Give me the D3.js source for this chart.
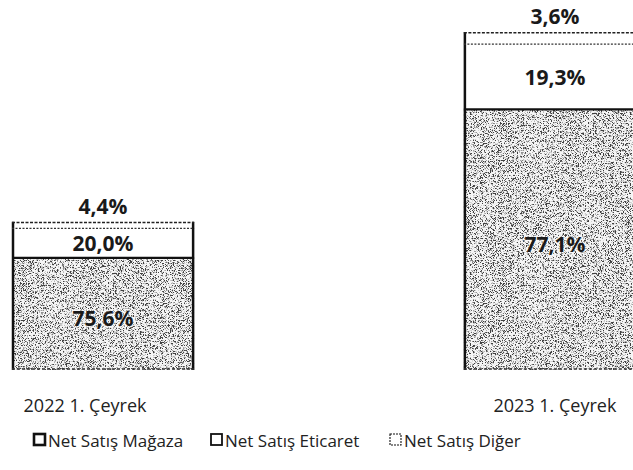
<!DOCTYPE html>
<html>
<head>
<meta charset="utf-8">
<script src="https://cdn.jsdelivr.net/npm/d3@7"></script>
<style>
  html, body { margin: 0; padding: 0; background: #fff; }
  svg { display: block; font-family: "Open Sans", "Noto Sans", sans-serif; }
</style>
</head>
<body>
<svg id="chart" width="633" height="470"></svg>
<script>
// Periods shown on the category axis
const periods = ["2022 1. Çeyrek", "2023 1. Çeyrek"];
// Relative size of total net sales for each period (2022 Q1 = 100)
const totals = [100, 228];
// Channel shares of net sales, in percent
const series = ["Net Satış Mağaza", "Net Satış Eticaret", "Net Satış Diğer"];
const magaza = [75.6, 77.1];
const eticaret = [20.0, 19.3];
const diger = [4.4, 3.6];
const shareLabels = [["75,6%", "20,0%", "4,4%"], ["77,1%", "19,3%", "3,6%"]];

const svg = d3.select("#chart");

// Speckled grain texture used for the store-sales segment
const defs = svg.append("defs");
const grain = defs.append("filter").attr("id", "grain")
  .attr("x", 0).attr("y", 0).attr("width", 1).attr("height", 1)
  .attr("filterUnits", "objectBoundingBox");
grain.append("feTurbulence").attr("type", "fractalNoise")
  .attr("baseFrequency", 1.6).attr("numOctaves", 1).attr("seed", 11).attr("result", "noise");
grain.append("feColorMatrix").attr("in", "noise").attr("type", "matrix")
  .attr("values", "0 0 0 0 0.05  0 0 0 0 0.05  0 0 0 0 0.05  0 0 0 -7 3.62").attr("result", "dots");
grain.append("feFlood").attr("flood-color", "#f6f6f6").attr("result", "paper");
grain.append("feComposite").attr("in", "dots").attr("in2", "paper").attr("operator", "over").attr("result", "mix");
grain.append("feComposite").attr("in", "mix").attr("in2", "SourceGraphic").attr("operator", "in");

const x = d3.scaleBand().domain(periods).range([12, 646]).paddingInner(0.597).paddingOuter(0);
const y = d3.scaleLinear().domain([0, d3.max(totals)]).range([370, 32]);

const rows = periods.map((p, i) => {
  const t = totals[i];
  const parts = [magaza[i], eticaret[i], diger[i]];
  let acc = 0;
  const segs = parts.map((v, k) => {
    const y0 = acc; acc += v * t / 100;
    return { period: p, key: k, share: v, y0, y1: acc, label: shareLabels[i][k] };
  });
  return { period: p, total: t, segs };
});

const bars = svg.append("g").selectAll("g").data(rows).join("g");

bars.each(function (d) {
  const g = d3.select(this);
  const x0 = x(d.period), bw = x.bandwidth();
  d.segs.forEach(s => {
    const top = y(s.y1), bot = y(s.y0);
    g.append("rect").attr("x", x0).attr("y", top).attr("width", bw).attr("height", bot - top)
      .attr("fill", s.key === 0 ? "#000" : "#fff")
      .attr("filter", s.key === 0 ? "url(#grain)" : null);
  });
  const mTop = y(d.segs[0].y1), eTop = y(d.segs[1].y1), dTop = y(d.segs[2].y1), base = y(0);
  // side walls
  [x0 + 1, x0 + bw - 1].forEach(xx => {
    g.append("line").attr("x1", xx).attr("x2", xx).attr("y1", dTop).attr("y2", base)
      .attr("stroke", "#111").attr("stroke-width", 2.5);
  });
  // store segment top edge
  g.append("line").attr("x1", x0).attr("x2", x0 + bw).attr("y1", mTop).attr("y2", mTop)
    .attr("stroke", "#111").attr("stroke-width", 2.2);
  // dotted edges of the other segment
  g.append("line").attr("x1", x0).attr("x2", x0 + bw).attr("y1", eTop).attr("y2", eTop)
    .attr("stroke", "#333").attr("stroke-width", 1.2).attr("stroke-dasharray", "2,1.5");
  g.append("line").attr("x1", x0).attr("x2", x0 + bw).attr("y1", dTop + 0.7).attr("y2", dTop + 0.7)
    .attr("stroke", "#222").attr("stroke-width", 1.4).attr("stroke-dasharray", "3,1.5");
  g.append("line").attr("x1", x0).attr("x2", x0 + bw).attr("y1", base - 1).attr("y2", base - 1)
    .attr("stroke", "#333").attr("stroke-width", 1.3).attr("stroke-dasharray", "3,2");

  // value labels
  const cx = x0 + bw / 2;
  const lab = (txt, yy, halo) => {
    if (halo) {
      g.append("text").attr("x", cx).attr("y", yy).attr("text-anchor", "middle")
        .attr("dominant-baseline", "central").attr("font-size", 21).attr("font-weight", 700)
        .attr("fill", "none").attr("stroke", "#fff").attr("stroke-width", 3).attr("stroke-opacity", 0.5)
        .text(txt);
    }
    g.append("text").attr("x", cx).attr("y", yy).attr("text-anchor", "middle")
      .attr("dominant-baseline", "central").attr("font-size", 21).attr("font-weight", 700)
      .attr("fill", "#1a1a1a").text(txt);
  };
  lab(d.segs[0].label, (mTop + base) / 2 + 4, true);
  lab(d.segs[1].label, (eTop + mTop) / 2, false);
  lab(d.segs[2].label, dTop - 16, false);
});

// category labels
svg.append("g").selectAll("text").data(periods).join("text")
  .attr("x", (p, i) => x(p) + x.bandwidth() / 2 + (i === 0 ? -18 : 0))
  .attr("y", 405).attr("text-anchor", "middle").attr("dominant-baseline", "central")
  .attr("font-size", 18).attr("fill", "#222").text(p => p);

// legend
const legendX = [33, 210, 389];
const swatchStroke = [[2.6, null], [1.8, null], [1.1, "2,1"]];
const leg = svg.append("g").selectAll("g").data(series).join("g")
  .attr("transform", (s, i) => `translate(${legendX[i]},440)`);
leg.append("rect").attr("x", 1).attr("y", -6).attr("width", 11).attr("height", 11)
  .attr("fill", "#fff").attr("stroke", "#111")
  .attr("stroke-width", (s, i) => swatchStroke[i][0])
  .attr("stroke-dasharray", (s, i) => swatchStroke[i][1]);
leg.append("text").attr("x", 15).attr("y", 0).attr("dominant-baseline", "central")
  .attr("font-size", 17).attr("fill", "#222").text(s => s);
</script>
</body>
</html>
